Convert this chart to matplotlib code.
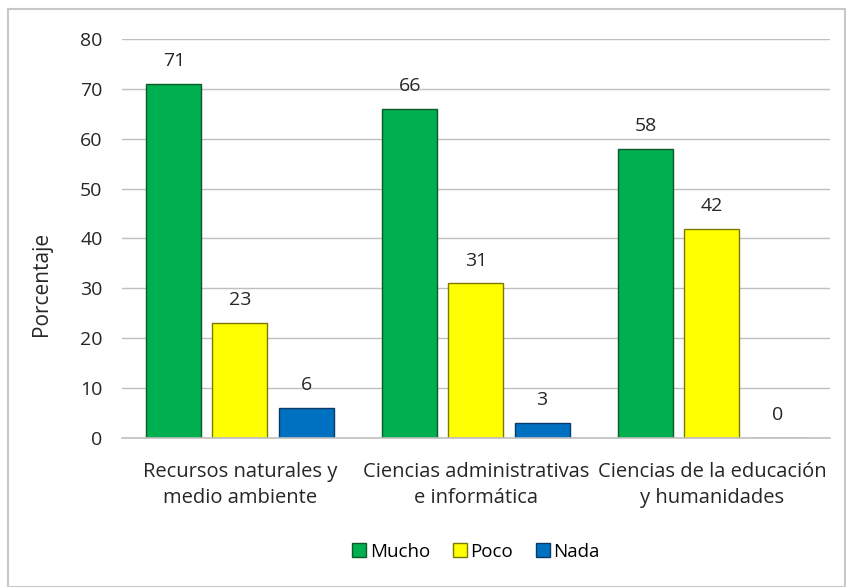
import matplotlib.pyplot as plt
import numpy as np
from matplotlib.patches import Rectangle

plt.rcParams['font.family'] = ['Open Sans', 'DejaVu Sans']

categorias = ['Recursos naturales y\nmedio ambiente',
              'Ciencias administrativas\ne informática',
              'Ciencias de la educación\ny humanidades']
mucho = [71, 66, 58]
poco = [23, 31, 42]
nada = [6, 3, 0]
series = ['Mucho', 'Poco', 'Nada']
colores = ['#00B050', '#FFFF00', '#0070C0']
bordes = ['#0B5A2A', '#7A7A00', '#0B3A66']

fig = plt.figure(figsize=(8.46, 5.87), dpi=100)
# marco exterior del grafico
fig.patches.append(Rectangle((0.009, 0.0), 0.99, 0.985, transform=fig.transFigure,
                             fill=False, edgecolor='#C8C8C8', linewidth=1.5))
ax = fig.add_axes([0.1442, 0.2538, 0.8368, 0.6798])

x = np.arange(len(categorias))
ancho = 0.233
offs = [-0.28, 0.0, 0.28]

for datos, nombre, col, bc, off in zip([mucho, poco, nada], series, colores, bordes, offs):
    barras = ax.bar(x + off, datos, ancho, color=col, edgecolor=bc, linewidth=1.0, label=nombre)
    for b, v in zip(barras, datos):
        ax.annotate(str(v), (b.get_x() + b.get_width() / 2, v), xytext=(0, 10),
                    textcoords='offset points', ha='center', va='bottom', fontsize=14, color='#262626')

ax.set_xlim(-0.5, 2.5)
ax.set_ylim(0, 80)
ax.set_yticks(range(0, 81, 10))
ax.yaxis.grid(True, color='#BFBFBF', linewidth=1.0)
ax.set_axisbelow(True)
for s in ['top', 'right', 'left']:
    ax.spines[s].set_visible(False)
ax.spines['bottom'].set_color('#BFBFBF')
ax.spines['bottom'].set_linewidth(1.2)
ax.tick_params(axis='y', length=0, labelsize=14, labelcolor='#262626', pad=14)
ax.tick_params(axis='x', length=0, labelsize=14.5, labelcolor='#262626', pad=17)
ax.set_xticks(x)
ax.set_xticklabels(categorias, linespacing=1.45)
ax.set_ylabel('Porcentaje', fontsize=15, color='#262626')
ax.yaxis.set_label_coords(-0.099, 0.386)

ax.legend(loc='center', bbox_to_anchor=(0.5, -0.285), ncol=3, frameon=False, fontsize=13.5,
          handlelength=0.75, handleheight=0.75, handletextpad=0.2, columnspacing=1.2)

fig.savefig('out.png', dpi=100)
